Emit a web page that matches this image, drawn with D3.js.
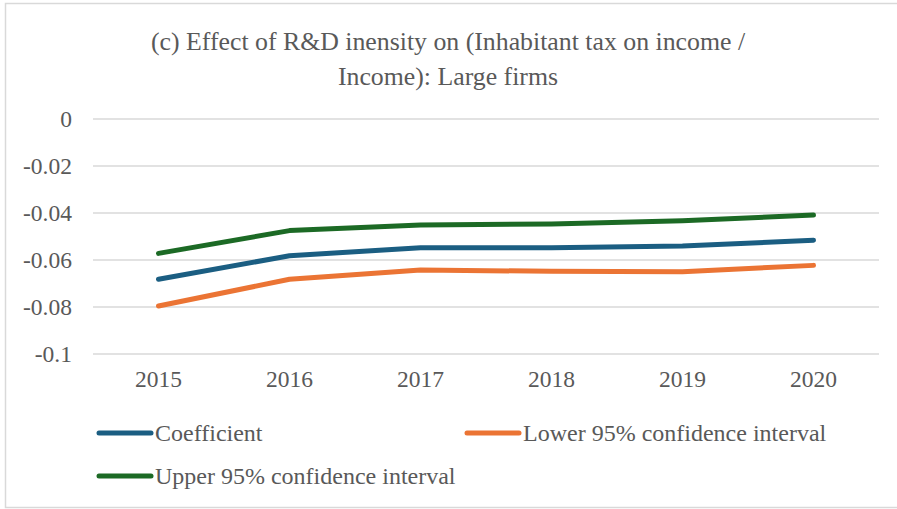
<!DOCTYPE html>
<html>
<head>
<meta charset="utf-8">
<script src="https://cdn.jsdelivr.net/npm/d3@7"></script>
<style>
	body { margin: 0; background: #fff; }
	text { font-family: "Liberation Serif", "Times New Roman", serif; fill: #595959; }
</style>
</head>
<body>
<svg width="897" height="509"></svg>
<script>
var years = ["2015", "2016", "2017", "2018", "2019", "2020"];
var coefficient = [-0.0684, -0.0584, -0.0550, -0.0550, -0.0543, -0.0518];
var lower95 = [-0.0798, -0.0684, -0.0645, -0.0650, -0.0652, -0.0625];
var upper95 = [-0.0574, -0.0477, -0.0453, -0.0449, -0.0435, -0.0411];
var yTicks = [0, -0.02, -0.04, -0.06, -0.08, -0.1];

var series = [
	{ name: "Coefficient", values: coefficient, color: "#1b5e82" },
	{ name: "Lower 95% confidence interval", values: lower95, color: "#eb7434" },
	{ name: "Upper 95% confidence interval", values: upper95, color: "#1c6a25" }
];

var svg = d3.select("svg"),
	plotLeft = 93, plotRight = 879, plotTop = 118.5, plotBottom = 353.5;

// chart border
svg.append("rect")
	.attr("x", 5.5).attr("y", 3.5)
	.attr("width", 900).attr("height", 504)
	.attr("fill", "none")
	.attr("stroke", "#d9d9d9")
	.attr("stroke-width", 1.5);

svg.append("text")
	.attr("x", 448).attr("y", 50)
	.attr("text-anchor", "middle")
	.style("font-size", "25.8px")
	.text("(c) Effect of R&D inensity on (Inhabitant tax on income /");
svg.append("text")
	.attr("x", 448).attr("y", 85)
	.attr("text-anchor", "middle")
	.style("font-size", "25.8px")
	.text("Income): Large firms");

var x = d3.scaleBand().domain(years).range([plotLeft, plotRight]);
var y = d3.scaleLinear().domain([-0.1, 0]).range([plotBottom, plotTop]);

// gridlines + y labels
var yAxis = svg.append("g")
	.attr("transform", "translate(" + plotLeft + ",0)")
	.call(d3.axisLeft(y).tickValues(yTicks).tickSize(-(plotRight - plotLeft)).tickPadding(21)
		.tickFormat(function(d) { return d === 0 ? "0" : String(+d.toFixed(2)); }));
yAxis.select(".domain").remove();
yAxis.selectAll("line").attr("stroke", "#d9d9d9").attr("stroke-width", 1.5);
yAxis.selectAll("text").style("font-size", "23.5px").attr("fill", "#595959");

var xAxis = svg.append("g")
	.attr("transform", "translate(0," + plotBottom + ")")
	.call(d3.axisBottom(x).tickSize(0).tickPadding(17));
xAxis.select(".domain").remove();
xAxis.selectAll("text").style("font-size", "23.5px").attr("fill", "#595959");

var line = d3.line()
	.x(function(d, i) { return x(years[i]) + x.bandwidth() / 2; })
	.y(function(d) { return y(d); });

svg.selectAll(".series")
	.data(series)
	.enter().append("path")
	.attr("class", "series")
	.attr("d", function(d) { return line(d.values); })
	.attr("fill", "none")
	.attr("stroke", function(d) { return d.color; })
	.attr("stroke-width", 5)
	.attr("stroke-linecap", "round")
	.attr("stroke-linejoin", "round");

// legend
var legPos = [[97, 433], [465, 433], [97, 476]];
var legend = svg.selectAll(".legend")
	.data(series)
	.enter().append("g")
	.attr("class", "legend")
	.attr("transform", function(d, i) { return "translate(" + legPos[i][0] + "," + legPos[i][1] + ")"; });

legend.append("line")
	.attr("x1", 2).attr("x2", 54)
	.attr("stroke", function(d) { return d.color; })
	.attr("stroke-width", 5)
	.attr("stroke-linecap", "round");

legend.append("text")
	.attr("x", 58).attr("y", 8)
	.style("font-size", "24px")
	.text(function(d) { return d.name; });
</script>
</body>
</html>
